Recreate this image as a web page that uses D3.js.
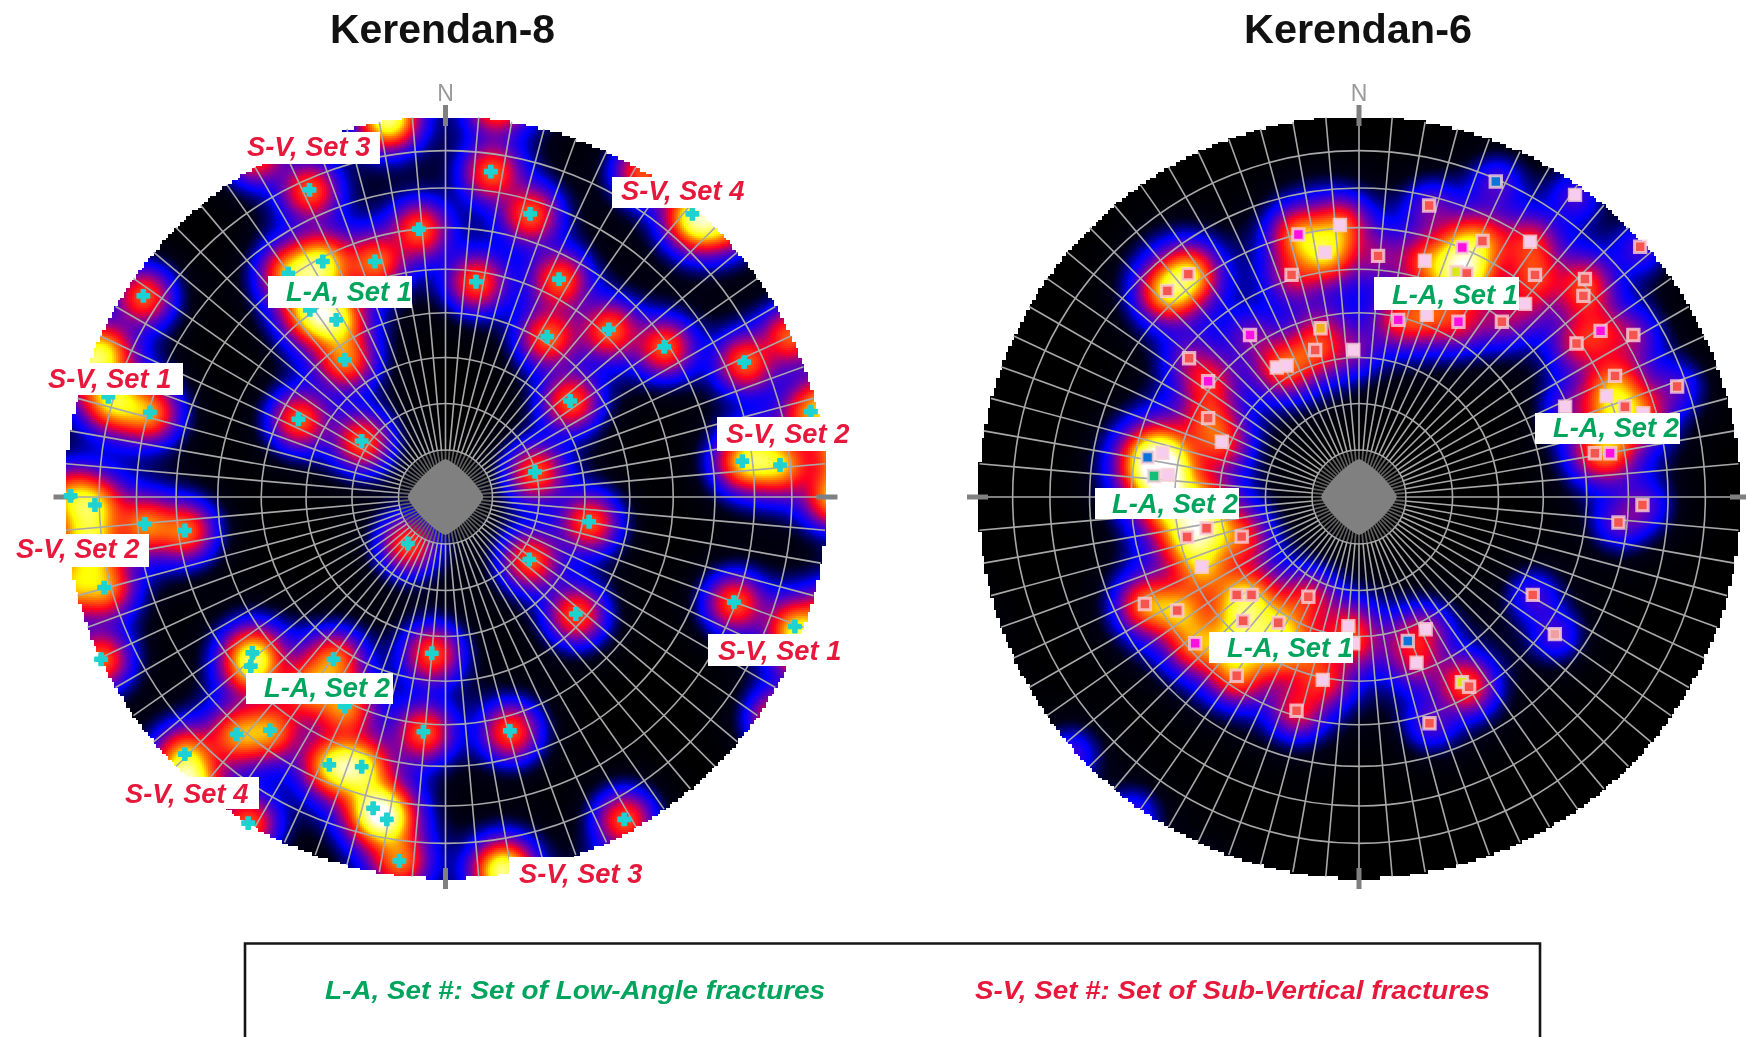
<!DOCTYPE html>
<html lang="en">
  <head>
    <meta charset="UTF-8" />
    <title>Kerendan stereonets</title>
    <style>
      html, body { margin: 0; padding: 0; background: #fff; }
      #wrap { position: relative; width: 1746px; height: 1037px; overflow: hidden; }
      canvas, svg { position: absolute; left: 0; top: 0; filter: blur(0.55px); }
      text { font-family: "Liberation Sans", Arial, sans-serif; }
    </style>
  </head>
  <body>
    <div id="wrap">
      <canvas id="density" width="1746" height="1037"></canvas>
      <svg id="svg" width="1746" height="1037"></svg>
    </div>
    <script src="https://cdn.jsdelivr.net/npm/d3@7"></script>
    <script>
      // poles: east, north, in % of the net radius
      const k8Poles = [
        [-35.7, 80.6], [-7.0, 70.3], [-32.2, 61.8], [-18.5, 61.8], [-41.3, 58.7], [-35.6, 49.1],
        [-28.7, 46.5], [-26.4, 36.0], [-79.3, 52.8], [-88.5, 26.3], [-77.6, 22.2], [-38.6, 20.4],
        [-22.0, 14.7], [-98.4, 0.3], [11.9, 85.4], [22.2, 74.3], [8.0, 56.5], [29.8, 57.2],
        [26.7, 42.1], [42.9, 44.0], [57.4, 39.4], [78.4, 35.4], [64.8, 74.3], [32.7, 25.2],
        [95.9, 22.4], [77.9, 9.4], [87.8, 8.4], [23.5, 6.6], [-92.0, -2.1], [-78.9, -7.1],
        [-68.4, -8.8], [-9.9, -12.2], [-89.6, -23.8], [-90.4, -42.6], [-50.7, -40.9], [-51.1, -44.4],
        [-29.4, -42.6], [-3.6, -41.0], [-26.4, -55.0], [-54.8, -62.3], [-46.1, -61.2], [-5.8, -61.6],
        [-68.4, -67.5], [-30.5, -70.3], [-22.0, -70.8], [-19.0, -81.7], [-15.4, -84.6], [-51.8, -85.6],
        [-12.1, -95.5], [37.7, -6.5], [22.0, -16.4], [75.7, -27.6], [91.7, -34.0], [34.2, -30.7],
        [16.9, -61.4], [46.9, -84.6],
      ];
      // no marker visible, but the density shows they are there (east, north, count)
      const k8Hidden = [
        [15, -98, 2], [-93, -14, 1], [-95, -9, 0.6], [-85, 24, 0.6], [82, 11, 0.7], [-90, 38, 1.2],
        [67, 72, 1], [-36, -50, 1], [-26, -71, 0.7], [-17, -83, 0.7], [-32, 48, 0.7], [-35, 60, 0.6],
      ];

      // east, north, marker kind, count at that spot
      const k6Poles = [
        [-50.3, 54.1, "c", 4], [-44.8, 58.5, "c", 4], [-15.9, 68.9, "m", 3], [-5.0, 71.4, "p", 2.5],
        [-8.9, 64.2, "p", 3.5], [-17.7, 58.3, "c", 1.5], [5.0, 63.3, "c", 1], [-28.6, 42.5, "m", 1],
        [-10.1, 44.3, "o", 1], [-11.5, 38.6, "c", 2], [-1.5, 38.6, "p", 1], [-21.6, 34.0, "p", 1],
        [-19.0, 34.5, "p", 2], [-44.6, 36.4, "c", 1], [-39.6, 30.4, "m", 2], [-39.6, 20.7, "c", 2],
        [-36.0, 14.5, "p", 2], [-55.5, 10.4, "b", 3], [-51.6, 11.6, "p", 3], [-53.8, 5.5, "g", 3],
        [-50.1, 5.8, "p", 3], [18.4, 76.5, "c", 1], [35.9, 82.8, "b", 1], [56.7, 79.3, "p", 1],
        [73.8, 65.7, "c", 1], [32.4, 67.2, "c", 2], [27.1, 65.5, "m", 2.5], [17.3, 62.0, "p", 2],
        [44.9, 67.0, "p", 2], [46.2, 58.3, "c", 2], [59.3, 57.2, "c", 1.5], [58.9, 52.8, "c", 1.5],
        [43.6, 50.7, "p", 1], [37.5, 46.0, "c", 1], [26.1, 46.0, "m", 1.5], [17.8, 47.8, "p", 2],
        [10.3, 46.5, "m", 2], [25.6, 59.1, "y", 3], [28.3, 58.7, "c", 2.5], [63.4, 43.6, "m", 1.5],
        [72.0, 42.5, "c", 1], [57.1, 40.3, "c", 1.5], [67.2, 31.8, "c", 1.5], [65.0, 26.5, "p", 2],
        [69.8, 23.7, "c", 2], [54.1, 23.7, "p", 0.7], [74.6, 22.0, "p", 1.5], [83.5, 29.0, "c", 0.8],
        [61.9, 11.5, "c", 1.5], [65.9, 11.5, "m", 1.5], [74.4, -2.1, "c", 1], [68.1, -6.7, "c", 1],
        [45.6, -25.7, "c", 1], [51.4, -36.0, "s", 1], [27.0, -48.6, "y", 1.5], [28.9, -49.8, "c", 1.5],
        [18.5, -59.4, "c", 1], [12.8, -37.8, "b", 1.2], [17.5, -34.7, "p", 1.2], [15.1, -43.5, "p", 1.2],
        [-2.8, -33.9, "p", 1.5], [-1.5, -38.4, "p", 1.5], [-9.5, -48.0, "p", 2], [-16.4, -56.1, "c", 2],
        [-32.1, -46.9, "c", 2.2], [-43.0, -38.4, "m", 2.6], [-56.2, -28.1, "c", 3], [-47.7, -29.8, "c", 3],
        [-30.4, -32.5, "c", 2.8], [-21.2, -33.0, "c", 2.4], [-32.1, -25.7, "c", 1.8], [-28.2, -25.7, "c", 1.8],
        [-13.3, -26.2, "c", 1.8], [-41.3, -18.3, "p", 2.5], [-45.1, -10.5, "c", 3], [-40.0, -8.2, "c", 3],
        [-30.8, -10.4, "c", 2],
      ];
      // sitting under the white labels
      const k6Hidden = [
        [-49.6, -2.1, 3], [-41.7, -2.1, 2.5], [-33.9, -40, 2.5], [-23.4, -40, 2.5], [-15.5, -40, 2], [65.9, 17.6, 2],
      ];

      const titles = ["Kerendan-8", "Kerendan-6"];
      const k8Labels = ["S-V, Set 3", "L-A, Set 1", "S-V, Set 1", "S-V, Set 4", "S-V, Set 2", "S-V, Set 2", "L-A, Set 2", "S-V, Set 4", "S-V, Set 1", "S-V, Set 3"];
      const k6Labels = ["L-A, Set 1", "L-A, Set 2", "L-A, Set 2", "L-A, Set 1"];
      const legendTexts = ["L-A, Set #: Set of Low-Angle fractures", "S-V, Set #: Set of Sub-Vertical fractures"];
      const dipCircles = d3.range(10, 90, 10);
      const azimuths = d3.range(0, 360, 5);

      // layout
      const R = 381;
      const nets = [
        { cx: 445.5, cy: 497, sigma: 4.46, tail: 7.9, amp: 1 },
        { cx: 1359, cy: 497, sigma: 4.4, tail: 8.5, amp: 0.32 },
      ];
      // rect x0, x1, y0, y1, text x, baseline
      const k8LabelBoxes = [
        [240, 380, 132, 164, 247, 156], [268, 412, 276, 308, 286, 301], [47, 183, 363, 395, 48, 388],
        [612, 760, 177, 208, 621, 200], [717, 855, 417, 451, 726, 443], [12, 149, 534, 567, 16, 558],
        [246, 393, 673, 704, 264, 697], [123, 259, 777, 809, 125, 803], [708, 847, 634, 666, 718, 660],
        [509, 650, 857, 888, 519, 883],
      ];
      const k6LabelBoxes = [
        [1374, 1519, 277, 310, 1392, 304], [1535, 1680, 413, 444, 1553, 437],
        [1095, 1239, 488, 519, 1112, 513], [1209, 1353, 632, 663, 1227, 657],
      ];
      const kindFill = { c: "#f4554f", m: "#ff10e0", p: "#f6cdf0", b: "#0a74d8", g: "#12c078", o: "#f2b01e", y: "#d8e81a", s: "#f0a0a0" };
      const redText = "#e6193c";
      const greenText = "#00a45c";

      const color = d3.scaleLinear()
        .domain([0, 0.07, 0.22, 0.5, 0.78, 1.2, 1.55, 2.4])
        .range(["#000000", "#000018", "#0000ff", "#8000a0", "#ff0020", "#ff8000", "#ffff00", "#ffffff"])
        .clamp(true);

      const svg = d3.select("#svg");
      const ctx = document.getElementById("density").getContext("2d");

      // Schmidt net radius for a dip in degrees
      const dipRadius = (d) => Math.SQRT2 * Math.sin((d * Math.PI) / 360) * R;

      function drawDensity(net, poles) {
        const xs = d3.scaleLinear().domain([-100, 100]).range([net.cx - R, net.cx + R]);
        const ys = d3.scaleLinear().domain([-100, 100]).range([net.cy + R, net.cy - R]);
        // poles near the rim also come back on the far side of the net
        const all = [];
        poles.forEach(([e, n, c]) => {
          const r = Math.hypot(e, n) || 1;
          const f = (200 - r) / r;
          all.push([e, n, c], [-e * f, -n * f, c]);
        });
        const s2 = 2 * net.sigma * net.sigma;
        const t2 = 2 * net.tail * net.tail;
        const step = 2;
        const block = 3;
        const x0 = Math.floor(net.cx - R) - 4;
        const y0 = Math.floor(net.cy - R) - 4;
        for (let py = y0; py < net.cy + R + 4; py += step) {
          for (let px = x0; px < net.cx + R + 4; px += step) {
            // blocky rim like the original raster
            const bx = Math.floor(px / block) * block + block / 2;
            const by = Math.floor(py / block) * block + block / 2;
            if (Math.hypot(bx - net.cx, by - net.cy) > R) continue;
            const e = xs.invert(px);
            const n = ys.invert(py);
            let v = 0;
            for (const p of all) {
              const d2 = (e - p[0]) * (e - p[0]) + (n - p[1]) * (n - p[1]);
              if (d2 < 12 * t2) v += p[2] * (0.8 * Math.exp(-d2 / s2) + 0.2 * Math.exp(-d2 / t2));
            }
            ctx.fillStyle = color(v * net.amp);
            ctx.fillRect(px, py, step, step);
          }
        }
      }

      function drawGrid(net) {
        const g = svg.append("g").attr("transform", `translate(${net.cx},${net.cy})`);
        g.selectAll("circle.dip")
          .data(dipCircles)
          .join("circle")
          .attr("class", "dip")
          .attr("r", dipRadius)
          .attr("fill", "none")
          .attr("stroke", "#a8a8a8")
          .attr("stroke-width", 1.6);
        g.selectAll("line.az")
          .data(azimuths)
          .join("line")
          .attr("class", "az")
          .attr("x1", (d) => 46 * Math.sin((d * Math.PI) / 180))
          .attr("y1", (d) => -46 * Math.cos((d * Math.PI) / 180))
          .attr("x2", (d) => R * Math.sin((d * Math.PI) / 180))
          .attr("y2", (d) => -R * Math.cos((d * Math.PI) / 180))
          .attr("stroke", "#a8a8a8")
          .attr("stroke-width", 1.6);
        // centre of the net, lines run together into a grey blob
        g.selectAll("line.inner")
          .data(azimuths)
          .join("line")
          .attr("class", "inner")
          .attr("x1", (d) => 26 * Math.sin((d * Math.PI) / 180))
          .attr("y1", (d) => -26 * Math.cos((d * Math.PI) / 180))
          .attr("x2", (d) => 46 * Math.sin((d * Math.PI) / 180))
          .attr("y2", (d) => -46 * Math.cos((d * Math.PI) / 180))
          .attr("stroke", "#5e5e5e")
          .attr("stroke-width", 1.8);
        const blob = d3.lineRadial()
          .angle((d) => (d * Math.PI) / 180)
          .radius((d) => {
            const t = (d * Math.PI) / 180;
            const p = 1.25;
            return 38 / Math.pow(Math.pow(Math.abs(Math.sin(t)), p) + Math.pow(Math.abs(Math.cos(t)), p), 1 / p);
          })
          .curve(d3.curveLinearClosed);
        g.append("path").attr("d", blob(d3.range(0, 360, 3))).attr("fill", "#808080");
        // compass ticks
        g.selectAll("line.tick")
          .data([0, 90, 180, 270])
          .join("line")
          .attr("class", "tick")
          .attr("x1", (d) => (R - 10) * Math.sin((d * Math.PI) / 180))
          .attr("y1", (d) => -(R - 10) * Math.cos((d * Math.PI) / 180))
          .attr("x2", (d) => (R + 11) * Math.sin((d * Math.PI) / 180))
          .attr("y2", (d) => -(R + 11) * Math.cos((d * Math.PI) / 180))
          .attr("stroke", "#808080")
          .attr("stroke-width", 5);
        g.append("text")
          .attr("y", -R - 15)
          .attr("text-anchor", "middle")
          .attr("font-size", 23)
          .attr("fill", "#9a9a9a")
          .text("N");
      }

      function drawLabels(names, boxes) {
        const g = svg.append("g");
        g.selectAll("rect")
          .data(boxes)
          .join("rect")
          .attr("x", (d) => d[0])
          .attr("y", (d) => d[2])
          .attr("width", (d) => d[1] - d[0])
          .attr("height", (d) => d[3] - d[2])
          .attr("fill", "#fff");
        g.selectAll("text")
          .data(names)
          .join("text")
          .attr("x", (d, i) => boxes[i][4])
          .attr("y", (d, i) => boxes[i][5])
          .attr("font-size", 27.3)
          .attr("font-weight", "bold")
          .attr("font-style", "italic")
          .attr("fill", (d) => (d.startsWith("L-A") ? greenText : redText))
          .text((d) => d);
      }

      // Kerendan-8
      const net8 = nets[0];
      drawDensity(net8, k8Poles.map((d) => [d[0], d[1], 1]).concat(k8Hidden));
      drawGrid(net8);
      const x8 = d3.scaleLinear().domain([-100, 100]).range([net8.cx - R, net8.cx + R]);
      const y8 = d3.scaleLinear().domain([-100, 100]).range([net8.cy + R, net8.cy - R]);
      svg.append("g")
        .selectAll("path")
        .data(k8Poles)
        .join("path")
        .attr("transform", (d) => `translate(${x8(d[0])},${y8(d[1])})`)
        .attr("d", d3.symbol(d3.symbolCross, 85))
        .attr("fill", "#1fd2d2")
        .attr("stroke", "#1fd2d2")
        .attr("stroke-width", 1.5)
        .attr("stroke-linejoin", "round");
      drawLabels(k8Labels, k8LabelBoxes);

      // Kerendan-6
      const net6 = nets[1];
      drawDensity(net6, k6Poles.map((d) => [d[0], d[1], d[3]]).concat(k6Hidden));
      drawGrid(net6);
      const x6 = d3.scaleLinear().domain([-100, 100]).range([net6.cx - R, net6.cx + R]);
      const y6 = d3.scaleLinear().domain([-100, 100]).range([net6.cy + R, net6.cy - R]);
      svg.append("g")
        .selectAll("path")
        .data(k6Poles)
        .join("path")
        .attr("transform", (d) => `translate(${x6(d[0])},${y6(d[1])})`)
        .attr("d", d3.symbol(d3.symbolSquare, 130))
        .attr("fill", (d) => kindFill[d[2]])
        .attr("stroke", "#f9d0d8")
        .attr("stroke-opacity", 0.8)
        .attr("stroke-width", 3);
      drawLabels(k6Labels, k6LabelBoxes);

      // titles
      svg.selectAll("text.title")
        .data(titles)
        .join("text")
        .attr("class", "title")
        .attr("x", (d, i) => [330, 1244][i])
        .attr("y", 43)
        .attr("textLength", (d, i) => [225, 228][i])
        .attr("lengthAdjust", "spacingAndGlyphs")
        .attr("font-size", 40)
        .attr("font-weight", "bold")
        .attr("fill", "#111")
        .text((d) => d);

      // legend box runs off the bottom of the picture
      svg.append("path")
        .attr("d", "M245,1040V943.5H1540V1040")
        .attr("fill", "none")
        .attr("stroke", "#151515")
        .attr("stroke-width", 2.6);
      svg.selectAll("text.legend")
        .data(legendTexts)
        .join("text")
        .attr("class", "legend")
        .attr("x", (d, i) => [325, 975][i])
        .attr("y", 999)
        .attr("textLength", (d, i) => [500, 515][i])
        .attr("lengthAdjust", "spacingAndGlyphs")
        .attr("font-size", 25)
        .attr("font-weight", "bold")
        .attr("font-style", "italic")
        .attr("fill", (d, i) => [greenText, redText][i])
        .text((d) => d);
    </script>
  </body>
</html>
